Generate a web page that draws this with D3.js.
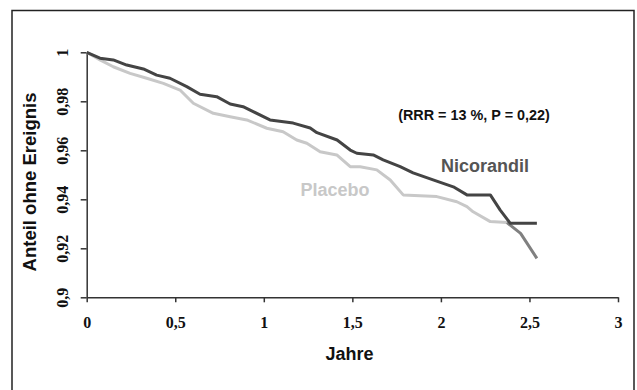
<!DOCTYPE html>
<html>
<head>
<meta charset="utf-8">
<script src="https://cdn.jsdelivr.net/npm/d3@7"></script>
<style>
  body { margin: 0; background: #fff; }
  svg { display: block; }
  .tick text { font-family: "Liberation Serif", "DejaVu Serif", serif; font-weight: bold; }
</style>
</head>
<body>
<div id="chart"></div>
<script>
// Kaplan-Meier style survival curves (Jahre, Anteil ohne Ereignis)
const nicorandilT = [0, 0.075, 0.15, 0.226, 0.32, 0.395, 0.47, 0.565, 0.64, 0.734, 0.81, 0.883, 0.94, 1.035, 1.166, 1.262, 1.30, 1.414, 1.488, 1.525, 1.618, 1.674, 1.77, 1.843, 1.956, 2.07, 2.147, 2.279, 2.335, 2.392, 2.542];
const nicorandilV = [1.0, 0.9976, 0.9969, 0.9948, 0.9932, 0.9907, 0.9894, 0.986, 0.9829, 0.9819, 0.9789, 0.9778, 0.9758, 0.9724, 0.9711, 0.9691, 0.9672, 0.9642, 0.9601, 0.9588, 0.9581, 0.9561, 0.9533, 0.9508, 0.9479, 0.9451, 0.9418, 0.9418, 0.9356, 0.9302, 0.9302];

const placeboT = [0, 0.075, 0.15, 0.245, 0.339, 0.433, 0.527, 0.602, 0.715, 0.81, 0.904, 1.017, 1.109, 1.186, 1.243, 1.318, 1.412, 1.488, 1.544, 1.638, 1.714, 1.787, 1.977, 2.09, 2.147, 2.182, 2.279, 2.373];
const placeboV = [1.0, 0.9969, 0.9941, 0.9914, 0.9894, 0.9873, 0.9846, 0.9792, 0.9751, 0.9737, 0.9724, 0.969, 0.9676, 0.9642, 0.9629, 0.9594, 0.9581, 0.9533, 0.9533, 0.952, 0.9479, 0.9418, 0.9411, 0.939, 0.937, 0.9349, 0.9309, 0.9305];

// last part of the placebo curve, printed darker in the original
const placeboTailT = [2.373, 2.45, 2.542];
const placeboTailV = [0.9305, 0.9261, 0.9159];

const xTicks = [0, 0.5, 1, 1.5, 2, 2.5, 3];
const yTicks = [0.9, 0.92, 0.94, 0.96, 0.98, 1];

const fmt = d => String(d).replace('.', ',');
const zip = (ts, vs) => ts.map((t, i) => ({ t: t, v: vs[i] }));

const width = 637, height = 390;
const svg = d3.select('#chart').append('svg')
  .attr('width', width)
  .attr('height', height);

// outer frame
svg.append('rect')
  .attr('x', 12).attr('y', 10.5)
  .attr('width', 622).attr('height', 400)
  .attr('fill', 'none')
  .attr('stroke', '#222')
  .attr('stroke-width', 1.5);

const x = d3.scaleLinear().domain([0, 3]).range([86.7, 618]);
const y = d3.scaleLinear().domain([0.9, 1]).range([297.3, 52.3]);

const xAxis = svg.append('g')
  .attr('transform', `translate(0,${y(0.9)})`)
  .call(d3.axisBottom(x).tickValues(xTicks).tickFormat(fmt).tickSize(5).tickSizeOuter(0));
xAxis.selectAll('text').attr('font-size', 16).attr('dy', null).attr('y', 31).attr('fill', '#111');

const yAxis = svg.append('g')
  .attr('transform', `translate(${x(0)},0)`)
  .call(d3.axisLeft(y).tickValues(yTicks).tickFormat(fmt).tickSize(6).tickSizeOuter(0));
yAxis.selectAll('text')
  .attr('font-size', 16)
  .attr('fill', '#111')
  .attr('x', null).attr('dy', null)
  .attr('text-anchor', 'middle')
  .attr('transform', 'translate(-18.5,0) rotate(-90)');

svg.selectAll('.domain, .tick line').attr('stroke', '#333').attr('stroke-width', 1.5);

const line = d3.line().x(d => x(d.t)).y(d => y(d.v));

svg.append('path')
  .datum(zip(placeboT, placeboV))
  .attr('d', line)
  .attr('fill', 'none')
  .attr('stroke', '#c8c8c8')
  .attr('stroke-width', 3)
  .attr('stroke-linejoin', 'round');

svg.append('path')
  .datum(zip(placeboTailT, placeboTailV))
  .attr('d', line)
  .attr('fill', 'none')
  .attr('stroke', '#808080')
  .attr('stroke-width', 3)
  .attr('stroke-linejoin', 'round');

svg.append('path')
  .datum(zip(nicorandilT, nicorandilV))
  .attr('d', line)
  .attr('fill', 'none')
  .attr('stroke', '#444')
  .attr('stroke-width', 3)
  .attr('stroke-linejoin', 'round');

const sans = 'Liberation Sans, Arial, sans-serif';

svg.append('text')
  .attr('transform', 'translate(36,182) rotate(-90)')
  .attr('text-anchor', 'middle')
  .attr('font-family', sans).attr('font-weight', 'bold').attr('font-size', 18.5)
  .attr('fill', '#111')
  .text('Anteil ohne Ereignis');

svg.append('text')
  .attr('x', 349.5).attr('y', 360)
  .attr('text-anchor', 'middle')
  .attr('font-family', sans).attr('font-weight', 'bold').attr('font-size', 18)
  .attr('fill', '#111')
  .text('Jahre');

svg.append('text')
  .attr('x', 474).attr('y', 119.5)
  .attr('text-anchor', 'middle')
  .attr('font-family', sans).attr('font-weight', 'bold').attr('font-size', 14.4)
  .attr('fill', '#111')
  .text('(RRR = 13 %, P = 0,22)');

svg.append('text')
  .attr('x', 485).attr('y', 172)
  .attr('text-anchor', 'middle')
  .attr('font-family', sans).attr('font-weight', 'bold').attr('font-size', 18)
  .attr('fill', '#555')
  .text('Nicorandil');

svg.append('text')
  .attr('x', 335).attr('y', 196)
  .attr('text-anchor', 'middle')
  .attr('font-family', sans).attr('font-weight', 'bold').attr('font-size', 18)
  .attr('fill', '#c8c8c8')
  .text('Placebo');
</script>
</body>
</html>
